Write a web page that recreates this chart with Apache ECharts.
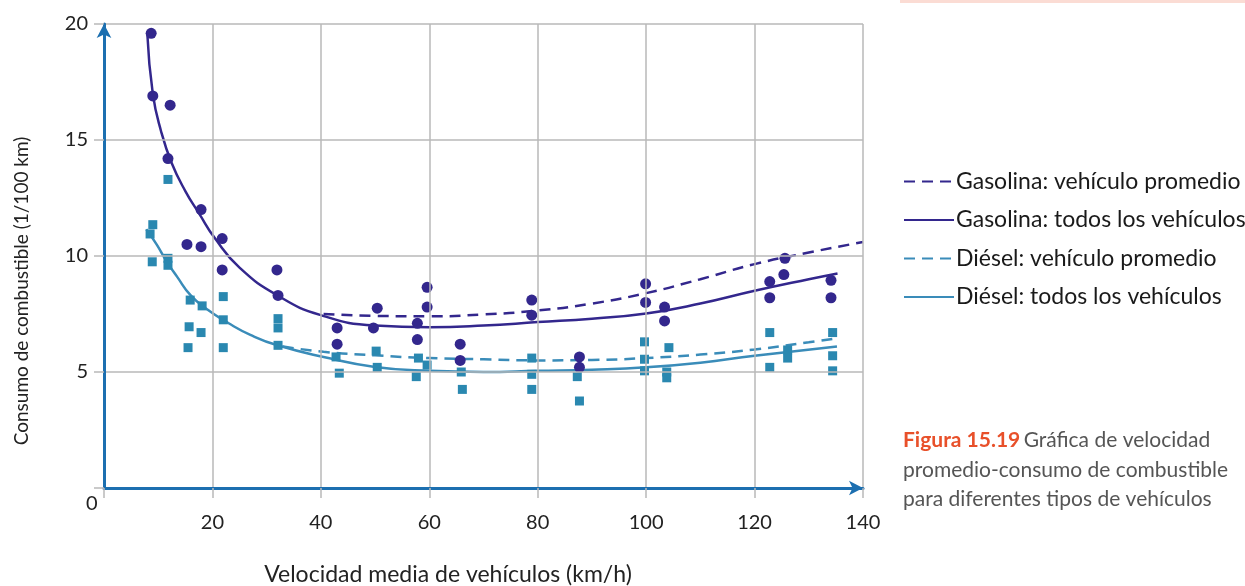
<!DOCTYPE html>
<html>
<head>
<meta charset="utf-8">
<script src="https://cdn.jsdelivr.net/npm/echarts@6/dist/echarts.min.js"></script>
<style>
  html, body { margin: 0; padding: 0; background: #fff; }
  #chart { width: 1245px; height: 586px; }
</style>
</head>
<body>
<div id="chart"></div>
<script>
// ejes
let ejeX = { min: 0, max: 140, paso: 20 };
let ejeY = { min: 0, max: 20, paso: 5 };

// puntos medidos: gasolina (circulos)
let gasolinaPuntos = [
  [8.7, 19.6], [9.0, 16.9], [12.2, 16.5], [11.8, 14.2], [17.9, 12.0],
  [15.3, 10.5], [17.9, 10.4], [21.8, 10.75], [21.8, 9.4], [31.9, 9.4],
  [32.1, 8.3], [43.0, 6.9], [43.0, 6.2], [50.4, 7.75], [49.7, 6.9],
  [59.6, 8.65], [59.6, 7.8], [57.8, 7.1], [57.8, 6.4], [65.7, 6.2],
  [65.7, 5.5], [78.9, 8.1], [78.9, 7.45], [87.7, 5.65], [87.7, 5.2],
  [99.9, 8.8], [99.9, 8.0], [103.4, 7.8], [103.4, 7.2], [122.8, 8.9],
  [122.8, 8.2], [125.6, 9.9], [125.4, 9.2], [134.1, 8.95], [134.1, 8.2]
];

// puntos medidos: diesel (cuadrados)
let dieselPuntos = [
  [11.8, 13.3], [9.0, 11.35], [8.5, 10.95], [8.9, 9.75], [11.8, 9.9],
  [11.8, 9.6], [15.9, 8.1], [18.1, 7.85], [15.7, 6.95], [17.9, 6.7],
  [15.5, 6.05], [22.0, 8.25], [22.0, 7.25], [22.0, 6.05], [32.1, 7.3],
  [32.1, 6.9], [32.1, 6.15], [42.8, 5.65], [43.4, 4.95], [50.2, 5.9],
  [50.4, 5.2], [58.0, 5.6], [59.6, 5.3], [57.6, 4.8], [65.9, 5.0],
  [66.1, 4.25], [78.9, 5.6], [78.9, 4.9], [78.9, 4.25], [87.3, 4.8],
  [87.7, 3.75], [99.7, 6.3], [99.7, 5.55], [99.7, 5.05], [104.2, 6.05],
  [103.8, 5.0], [103.8, 4.75], [122.8, 6.7], [122.8, 5.2], [126.1, 5.95],
  [126.1, 5.6], [134.4, 6.7], [134.4, 5.7], [134.4, 5.05]
];

// curvas
let gasolinaPromedio = [
  [40.5, 7.5], [50, 7.42], [60, 7.4], [70, 7.48], [80, 7.65], [90, 7.95],
  [100, 8.4], [110, 9.0], [120, 9.65], [130, 10.15], [140, 10.6]
];
let gasolinaTodos = [
  [8.0, 19.55], [9.0, 17.0], [10.5, 15.4], [12.5, 14.0],
  [15, 12.8], [17.5, 11.85], [20.5, 10.75], [25, 9.5],
  [32, 8.3], [40, 7.45], [50, 7.0], [60, 6.93], [70, 7.0], [80, 7.15],
  [90, 7.3], [100, 7.52], [110, 7.95], [120, 8.5], [130, 9.0], [135.3, 9.25]
];
let dieselPromedio = [
  [33, 6.1], [40.5, 5.87], [50, 5.72], [60, 5.6], [70, 5.55], [80, 5.5],
  [90, 5.52], [100, 5.6], [110, 5.75], [120, 5.97], [130, 6.28], [135, 6.45]
];
let dieselTodos = [
  [7.8, 11.15], [9.7, 10.5], [11.6, 9.75], [13.5, 9.1], [16, 8.3], [19, 7.7],
  [23, 7.1], [27, 6.6], [32, 6.15], [40.5, 5.65], [50, 5.22], [60, 5.05],
  [70, 5.0], [80, 5.05], [90, 5.1], [100, 5.2], [110, 5.4], [120, 5.7], [135.2, 6.1]
];

let nombres = [
  "Gasolina: vehículo promedio",
  "Gasolina: todos los vehículos",
  "Diésel: vehículo promedio",
  "Diésel: todos los vehículos"
];

let colorGasolina = "#33278d";
let colorDiesel = "#3a8cb9";
let colorEje = "#1c6fb0";
let colorRejilla = "#b9b9b9";
let fuente = "Lato";

let chart = echarts.init(document.getElementById("chart"));

let curva = function(nombre, datos, color, tipo) {
  return {
    name: nombre,
    type: "line",
    data: datos,
    symbol: "none",
    smooth: 0.5,
    lineStyle: { color: color, width: 2.5, type: tipo },
    itemStyle: { color: color },
    z: 3
  };
};

let eje = function(rango, etiquetaMargen) {
  return {
    type: "value",
    min: rango.min,
    max: rango.max,
    interval: rango.paso,
    axisLine: {
      show: true,
      symbol: ["none", "arrow"],
      symbolSize: [11, 14],
      lineStyle: { color: colorEje, width: 3 }
    },
    axisTick: { show: true, length: 10, lineStyle: { color: colorRejilla, width: 1.5 } },
    splitLine: { show: true, lineStyle: { color: colorRejilla, width: 1.5 } },
    axisLabel: {
      fontFamily: fuente,
      fontSize: 20,
      color: "#222",
      margin: etiquetaMargen,
      formatter: function(v) { return v === 0 ? "" : String(v); }
    },
    z: 5
  };
};

let option = {
  backgroundColor: "#fff",
  animation: false,
  grid: { left: 104, right: 382, top: 24, bottom: 98 },
  xAxis: eje(ejeX, 25),
  yAxis: eje(ejeY, 16),
  legend: {
    data: nombres,
    orient: "vertical",
    left: 903,
    top: 170,
    padding: 0,
    itemWidth: 50,
    itemHeight: 14,
    itemGap: 15.5,
    selectedMode: false,
    itemStyle: { opacity: 0 },
    textStyle: { fontFamily: fuente, fontSize: 23, color: "#1a1a1a", padding: [0, 0, 0, -3] }
  },
  series: [
    curva(nombres[0], gasolinaPromedio, colorGasolina, [11, 7]),
    curva(nombres[1], gasolinaTodos, colorGasolina, "solid"),
    curva(nombres[2], dieselPromedio, colorDiesel, [11, 7]),
    curva(nombres[3], dieselTodos, colorDiesel, "solid"),
    {
      name: "gasolina-puntos",
      type: "scatter",
      data: gasolinaPuntos,
      symbol: "circle",
      symbolSize: 11,
      itemStyle: { color: colorGasolina, opacity: 1 },
      z: 4
    },
    {
      name: "diesel-puntos",
      type: "scatter",
      data: dieselPuntos,
      symbol: "rect",
      symbolSize: 9,
      itemStyle: { color: "#2a88b0", opacity: 1 },
      z: 4
    }
  ],
  graphic: [
    { // franja rosa superior
      type: "rect",
      left: 900, top: 0,
      shape: { width: 345, height: 3 },
      style: { fill: "#fbdcd4" }
    },
    {
      type: "text",
      left: 86, top: 494,
      style: { text: "0", fontFamily: fuente, fontSize: 20, fill: "#222" }
    },
    {
      type: "text",
      x: 448, y: 575,
      style: {
        text: "Velocidad media de vehículos (km/h)",
        fontFamily: fuente, fontSize: 23, fill: "#222",
        align: "center", verticalAlign: "middle"
      }
    },
    {
      type: "text",
      x: 22, y: 291,
      rotation: Math.PI / 2,
      style: {
        text: "Consumo de combustible (1/100 km)",
        fontFamily: fuente, fontSize: 19, fill: "#222",
        align: "center", verticalAlign: "middle"
      }
    },
    {
      type: "text",
      left: 903, top: 430,
      style: {
        text: "{t|Figura 15.19} {c|Gráfica de velocidad}\n{c|promedio-consumo de combustible}\n{c|para diferentes tipos de vehículos}",
        rich: {
          t: { fontFamily: fuente, fontSize: 21, fontWeight: "bold", fill: "#e8502a", lineHeight: 29.5 },
          c: { fontFamily: fuente, fontSize: 21, fill: "#555", lineHeight: 29.5 }
        }
      }
    }
  ]
};

chart.setOption(option);
</script>
</body>
</html>
